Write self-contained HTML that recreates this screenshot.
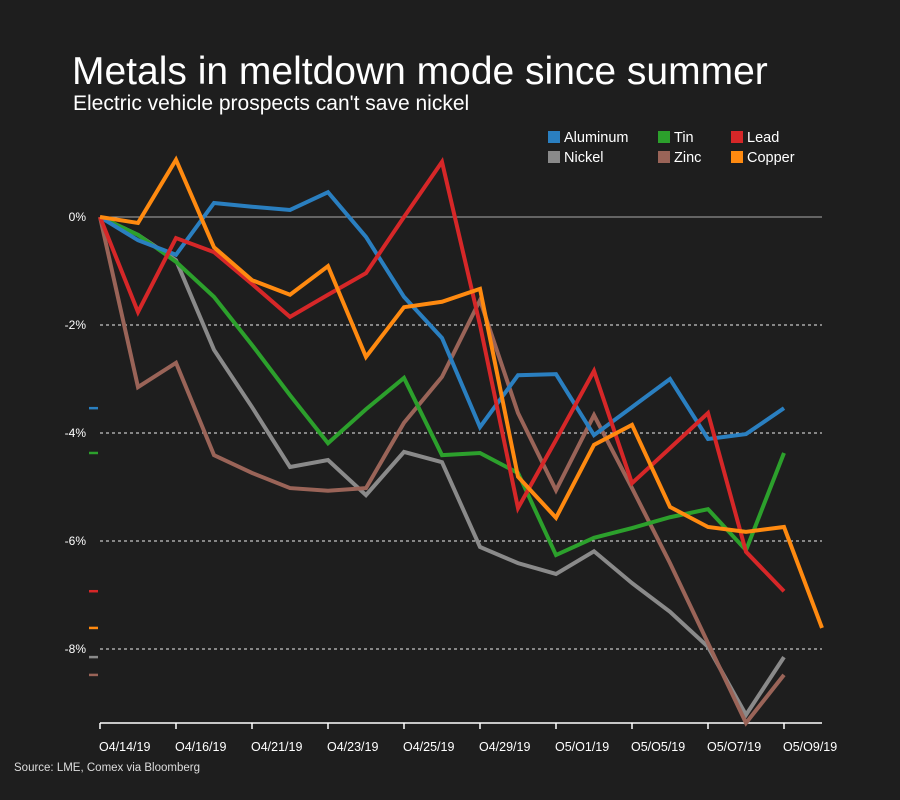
<!DOCTYPE html>
<html><head><meta charset="utf-8">
<style>
body{margin:0;background:#1e1e1e;}
svg{display:block;font-family:"Liberation Sans",sans-serif;}
</style></head>
<body>
<svg id="chart" width="900" height="800" viewBox="0 0 900 800">
<rect width="900" height="800" fill="#1e1e1e"/>
<text x="72" y="84" fill="#fff" font-size="39">Metals in meltdown mode since summer</text>
<text x="73" y="110" fill="#fff" font-size="21">Electric vehicle prospects can't save nickel</text>
<text x="14" y="771" fill="#ddd" font-size="11.5">Source: LME, Comex via Bloomberg</text>
<g id="grid"></g><g id="axis"></g><g id="series"></g><g id="legend"></g>
</svg>
<script>
const dates = ["O4/14/19","O4/16/19","O4/21/19","O4/23/19","O4/25/19","O4/29/19","O5/O1/19","O5/O5/19","O5/O7/19","O5/O9/19"];
const yTicks = [0,-2,-4,-6,-8];
const seriesNames = ["Aluminum","Tin","Lead","Nickel","Zinc","Copper"];
const colors = ["#2a7fc0","#2ca02c","#d62728","#8a8a8a","#9a6458","#ff8a10"];
const aluminum = [0,-0.43,-0.70,0.26,0.19,0.13,0.46,-0.37,-1.48,-2.24,-3.89,-2.93,-2.91,-4.04,-3.52,-3.00,-4.11,-4.02,-3.54];
const tin = [0,-0.33,-0.83,-1.48,-2.37,-3.30,-4.19,-3.56,-2.98,-4.41,-4.37,-4.74,-6.26,-5.94,-5.76,-5.56,-5.41,-6.17,-4.37];
const lead = [0,-1.76,-0.39,-0.65,-1.24,-1.85,-1.44,-1.04,0.0,1.02,-2.0,-5.39,-4.13,-2.85,-4.93,-4.28,-3.63,-6.20,-6.93];
const nickel = [0,-0.33,-0.80,-2.46,-3.52,-4.63,-4.50,-5.15,-4.35,-4.54,-6.11,-6.41,-6.61,-6.19,-6.78,-7.31,-7.96,-9.22,-8.15];
const zinc = [0,-3.15,-2.70,-4.41,-4.74,-5.02,-5.07,-5.02,-3.81,-2.96,-1.54,-3.63,-5.06,-3.67,-5.02,-6.41,-7.89,-9.37,-8.48];
const copper = [0,-0.11,1.06,-0.56,-1.17,-1.44,-0.91,-2.59,-1.67,-1.57,-1.33,-4.81,-5.57,-4.22,-3.85,-5.37,-5.74,-5.83,-5.74,-7.61];
const allSeries = [aluminum,tin,lead,nickel,zinc,copper];
const drawOrder = [3,4,1,0,2,5];

const NS="http://www.w3.org/2000/svg";
const xS = i => 100 + i*38;
const yS = v => 217 - v*54;
function mk(tag, attrs, parent){const e=document.createElementNS(NS,tag);for(const k in attrs)e.setAttribute(k,attrs[k]);parent.appendChild(e);return e;}
const grid=document.getElementById('grid'), axis=document.getElementById('axis'), ser=document.getElementById('series'), leg=document.getElementById('legend');

yTicks.forEach(t=>{
  const l=mk('line',{x1:100,x2:822,y1:yS(t),y2:yS(t),stroke:t===0?'#aaa':'#eee','stroke-width':1,'stroke-dasharray':t===0?'':'3,3'},grid);
  
  
  const tx=mk('text',{x:86,y:yS(t)+4,fill:'#fff','font-size':12,'text-anchor':'end'},grid);
  tx.textContent=t+'%';
  
  
});
const ax=mk('line',{x1:100,x2:822,y1:723,y2:723,stroke:'#fff','stroke-width':1.5},axis);


dates.forEach((d,k)=>{
  const x=xS(k*2);
  const tk=mk('line',{x1:x,x2:x,y1:723,y2:729,stroke:'#fff','stroke-width':1.5},axis);
  
  
  const tx=mk('text',{x:x-1,y:751,fill:'#fff','font-size':12.5},axis);
  tx.textContent=d;
  
  
});
drawOrder.forEach(s=>{
  const data=allSeries[s];
  const p=mk('polyline',{points:data.map((v,i)=>xS(i)+','+yS(v)).join(' '),fill:'none',stroke:colors[s],'stroke-width':4,'stroke-linejoin':'miter'},ser);
  
  
  const last=data[data.length-1];
  const m=mk('line',{x1:89,x2:98,y1:yS(last),y2:yS(last),stroke:colors[s],'stroke-width':2.5},ser);
  
  
});
const legX=[548,658,731], legY=[131,151];
const legOrder=[0,1,2,3,4,5];
legOrder.forEach((s,k)=>{
  const col=k%3,row=Math.floor(k/3);
  const g=mk('g',{},leg);
  
  
  mk('rect',{x:legX[col],y:legY[row],width:12,height:12,fill:colors[s]},g);
  const t=mk('text',{x:legX[col]+16,y:legY[row]+11,fill:'#fff','font-size':14.5},g);
  t.textContent=seriesNames[s];
});
</script>
</body></html>
